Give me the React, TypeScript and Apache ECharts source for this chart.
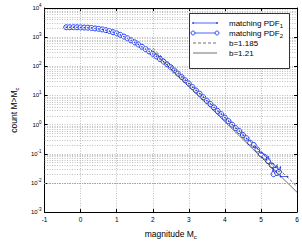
import React, { useEffect, useRef } from "react";
import * as echarts from "echarts";

const FONT = "'Liberation Sans', Arial, Helvetica, sans-serif";
const BLUE = "#1f3cff";
const FIT = "#333333";

// matching PDF2 (circles)
const magnitudes2 = [
  -0.4, -0.3, -0.2, -0.1, 0.0, 0.1, 0.2, 0.3, 0.4, 0.5, 0.6, 0.7, 0.8, 0.9,
  1.0, 1.1, 1.2, 1.3, 1.4, 1.5, 1.6, 1.7, 1.8, 1.9, 2.0, 2.1, 2.2, 2.3, 2.4,
  2.5, 2.6, 2.7, 2.8, 2.9, 3.0, 3.1, 3.2, 3.3, 3.4, 3.5, 3.6, 3.7, 3.8, 3.9,
  4.0, 4.1, 4.2, 4.3, 4.4, 4.5, 4.6, 4.7, 4.8, 4.9, 5.0, 5.1, 5.2, 5.3, 5.35,
  5.4, 5.45, 5.5,
];
const counts2 = [
  2188, 2188, 2188, 2188, 2163, 2138, 2113, 2065, 1995, 1928, 1841, 1738, 1622,
  1479, 1349, 1202, 1047, 912, 776, 661, 562, 468, 389, 324, 269, 219, 178, 145,
  117, 93, 72, 56, 43, 33, 25.7, 19.5, 14.8, 11.5, 8.7, 6.6, 5.1, 3.9, 2.95,
  2.29, 1.74, 1.32, 1.0, 0.76, 0.6, 0.44, 0.34, 0.24, 0.2, 0.14, 0.095, 0.079,
  0.056, 0.04, 0.02, 0.028, 0.022, 0.024,
];

// matching PDF1 (line with dots)
const magnitudes1 = [
  -0.4, -0.3, -0.2, -0.1, 0.0, 0.1, 0.2, 0.3, 0.4, 0.5, 0.6, 0.7, 0.8, 0.9,
  1.0, 1.1, 1.2, 1.3, 1.4, 1.5, 1.6, 1.7, 1.8, 1.9, 2.0, 2.1, 2.2, 2.3, 2.4,
  2.5, 2.6, 2.7, 2.8, 2.9, 3.0, 3.1, 3.2, 3.3, 3.4, 3.5, 3.6, 3.7, 3.8, 3.9,
  4.0, 4.1, 4.2, 4.3, 4.4, 4.5, 4.6, 4.7, 4.8, 4.9, 5.0, 5.05, 5.1, 5.15, 5.2,
  5.25, 5.3, 5.35, 5.4, 5.45, 5.5, 5.54, 5.54, 5.74,
];
const counts1 = [
  2188, 2188, 2188, 2188, 2163, 2138, 2113, 2065, 1995, 1928, 1841, 1738, 1622,
  1479, 1349, 1202, 1047, 912, 776, 661, 562, 468, 389, 324, 269, 219, 178, 145,
  117, 93, 72, 56, 43, 33, 25.7, 19.5, 14.8, 11.5, 8.7, 6.6, 5.1, 3.9, 2.95,
  2.29, 1.74, 1.32, 1.0, 0.76, 0.6, 0.44, 0.33, 0.28, 0.178, 0.151, 0.105,
  0.071, 0.089, 0.063, 0.079, 0.05, 0.045, 0.028, 0.035, 0.04, 0.025, 0.035,
  0.0166, 0.0166,
];

// Gutenberg-Richter reference lines
const fitMagnitudes = [2.0, 6.0];
const fitCountsB1185 = [417, 0.00759];
const fitCountsB121 = [331, 0.00479];

// grid helpers
const minorMultipliers = [2, 3, 4, 5, 6, 7, 8, 9];
const decadeExponents = [-3, -2, -1, 0, 1, 2, 3];

const legendLabels = [
  "matching PDF{s|1}",
  "matching PDF{s|2}",
  "b=1.185",
  "b=1.21",
];
const xAxisLabel = "magnitude M{s|c}";
const yAxisLabel = "count M>M{s|c}";

const zip = (xs: number[], ys: number[]) => xs.map((x, i) => [x, ys[i]]);

export default function App() {
  const ref = useRef<HTMLDivElement>(null);

  useEffect(() => {
    if (!ref.current) return;
    const chart = echarts.init(ref.current, null, { renderer: "svg" });

    const minorValues: number[] = [];
    decadeExponents.forEach((e) =>
      minorMultipliers.forEach((m) => minorValues.push(m * Math.pow(10, e)))
    );

    const gridLine = { type: [1, 1.5] as any, color: "#a0a0a0", width: 0.7 };
    const subRich = {
      s: { fontSize: 6, fontFamily: FONT, lineHeight: 6, padding: [6, 0, 0, 0] },
    };

    const legendRowY = [23, 33, 43, 53];
    const sx0 = 193;
    const sx1 = 217;
    const legendGraphics: any[] = [
      {
        type: "rect",
        shape: { x: 189.5, y: 13.5, width: 100, height: 55 },
        style: { fill: "#fff", stroke: "#000", lineWidth: 0.8 },
        z: 100,
      },
      {
        type: "line",
        shape: { x1: sx0, y1: legendRowY[0], x2: sx1, y2: legendRowY[0] },
        style: { stroke: BLUE, lineWidth: 0.8 },
        z: 101,
      },
      {
        type: "circle",
        shape: { cx: sx0, cy: legendRowY[0], r: 0.9 },
        style: { fill: BLUE },
        z: 101,
      },
      {
        type: "circle",
        shape: { cx: sx1, cy: legendRowY[0], r: 0.9 },
        style: { fill: BLUE },
        z: 101,
      },
      {
        type: "line",
        shape: { x1: sx0, y1: legendRowY[1], x2: sx1, y2: legendRowY[1] },
        style: { stroke: BLUE, lineWidth: 0.8 },
        z: 101,
      },
      {
        type: "circle",
        shape: { cx: sx0, cy: legendRowY[1], r: 2 },
        style: { fill: "#fff", stroke: BLUE, lineWidth: 0.9 },
        z: 102,
      },
      {
        type: "circle",
        shape: { cx: sx1, cy: legendRowY[1], r: 2 },
        style: { fill: "#fff", stroke: BLUE, lineWidth: 0.9 },
        z: 102,
      },
      {
        type: "line",
        shape: { x1: sx0, y1: legendRowY[2], x2: sx1, y2: legendRowY[2] },
        style: { stroke: FIT, lineWidth: 0.7, lineDash: [3, 2] },
        z: 101,
      },
      {
        type: "line",
        shape: { x1: sx0, y1: legendRowY[3], x2: sx1, y2: legendRowY[3] },
        style: { stroke: FIT, lineWidth: 0.7 },
        z: 101,
      },
      ...legendLabels.map((t, i) => ({
        type: "text",
        x: 229,
        y: legendRowY[i],
        z: 101,
        style: {
          text: t,
          fontSize: 8,
          fontFamily: FONT,
          fill: "#000",
          verticalAlign: "middle",
          align: "left",
          rich: subRich,
        },
      })),
    ];

    const option: any = {
      animation: false,
      backgroundColor: "#fff",
      grid: { left: 24, right: 5, top: 8, bottom: 25, containLabel: false },
      xAxis: [
        {
          type: "value",
          min: -1,
          max: 6,
          interval: 1,
          position: "bottom",
          axisLine: { show: true, onZero: false, lineStyle: { color: "#000", width: 1 } },
          axisTick: { show: true, inside: true, length: 3, lineStyle: { color: "#000" } },
          axisLabel: { fontSize: 6.5, fontFamily: FONT, color: "#000", margin: 4 },
          splitLine: { show: true, lineStyle: gridLine },
          name: xAxisLabel,
          nameLocation: "middle",
          nameGap: 12,
          nameTextStyle: { fontSize: 8.5, fontFamily: FONT, color: "#000", rich: subRich },
        },
        {
          type: "value",
          min: -1,
          max: 6,
          interval: 1,
          position: "top",
          axisLine: { show: true, onZero: false, lineStyle: { color: "#000", width: 1 } },
          axisTick: { show: true, inside: true, length: 3, lineStyle: { color: "#000" } },
          axisLabel: { show: false },
          splitLine: { show: false },
        },
      ],
      yAxis: [
        {
          type: "log",
          logBase: 10,
          min: 0.001,
          max: 10000,
          splitNumber: 7,
          position: "left",
          axisLine: { show: true, onZero: false, lineStyle: { color: "#000", width: 1 } },
          axisTick: { show: true, inside: true, length: 3, lineStyle: { color: "#000" } },
          axisLabel: {
            fontSize: 6,
            fontFamily: FONT,
            color: "#000",
            margin: 3,
            formatter: (v: number) => `{b|10}{e|${Math.round(Math.log10(v))}}`,
            rich: {
              b: { fontSize: 6, fontFamily: FONT, color: "#000" },
              e: { fontSize: 4.5, fontFamily: FONT, color: "#000", lineHeight: 5, padding: [0, 0, 5, 0] },
            },
          },
          splitLine: { show: true, lineStyle: gridLine },
          name: yAxisLabel,
          nameLocation: "middle",
          nameGap: 12,
          nameTextStyle: { fontSize: 8.5, fontFamily: FONT, color: "#000", rich: subRich },
        },
        {
          type: "log",
          logBase: 10,
          min: 0.001,
          max: 10000,
          splitNumber: 7,
          position: "right",
          axisLine: { show: true, onZero: false, lineStyle: { color: "#000", width: 1 } },
          axisTick: { show: true, inside: true, length: 3, lineStyle: { color: "#000" } },
          axisLabel: { show: false },
          splitLine: { show: false },
        },
      ],
      series: [
        {
          name: "minor grid",
          type: "line",
          data: [],
          z: 1,
          silent: true,
          markLine: {
            silent: true,
            symbol: "none",
            label: { show: false },
            lineStyle: gridLine,
            data: minorValues.map((v) => ({ yAxis: v })),
          },
        },
        {
          name: "b=1.185",
          type: "line",
          data: zip(fitMagnitudes, fitCountsB1185),
          showSymbol: false,
          lineStyle: { color: FIT, width: 0.7, type: [3, 2] },
          z: 4,
        },
        {
          name: "b=1.21",
          type: "line",
          data: zip(fitMagnitudes, fitCountsB121),
          showSymbol: false,
          lineStyle: { color: FIT, width: 0.7 },
          z: 4,
        },
        {
          name: "matching PDF2",
          type: "line",
          data: zip(magnitudes2, counts2),
          symbol: "circle",
          symbolSize: 5,
          showSymbol: true,
          showAllSymbol: true,
          itemStyle: { color: "#fff", borderColor: BLUE, borderWidth: 1 },
          lineStyle: { color: BLUE, width: 0.9 },
          z: 3,
        },
        {
          name: "matching PDF1",
          type: "line",
          data: zip(magnitudes1, counts1),
          symbol: "circle",
          symbolSize: 1.5,
          showSymbol: true,
          showAllSymbol: true,
          itemStyle: { color: BLUE },
          lineStyle: { color: BLUE, width: 0.8 },
          z: 3,
        },
      ],
      graphic: legendGraphics,
    };

    chart.setOption(option);
    return () => chart.dispose();
  }, []);

  return (
    <div
      ref={ref}
      style={{ position: "absolute", left: 0, top: 0, width: 302, height: 245 }}
    />
  );
}
